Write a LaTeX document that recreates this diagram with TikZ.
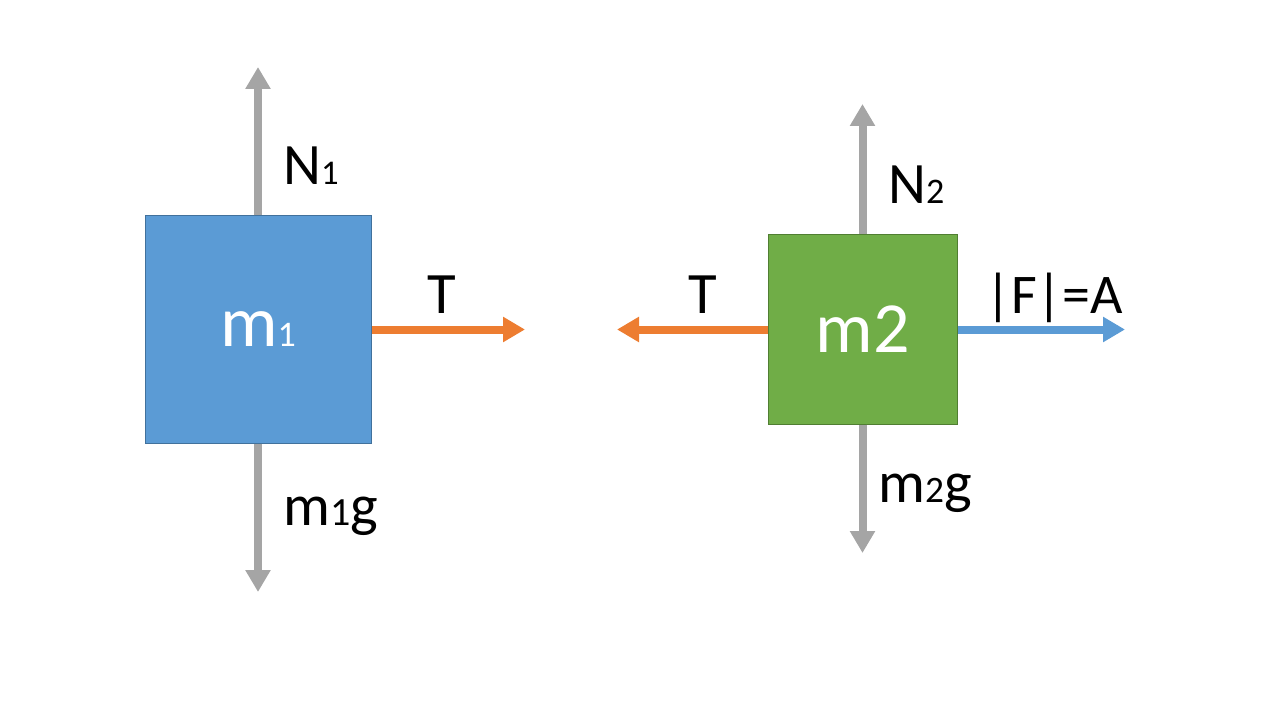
\documentclass[tikz,border=0pt]{standalone}
\usepackage{fontspec}
\setmainfont{Carlito}
\usetikzlibrary{arrows.meta}

\definecolor{blockblue}{HTML}{5B9BD5}
\definecolor{edgeblue}{HTML}{41719C}
\definecolor{blockgreen}{HTML}{70AD47}
\definecolor{edgegreen}{HTML}{507E32}
\definecolor{tensionorange}{HTML}{ED7D31}
\definecolor{forcegray}{HTML}{A5A5A5}

\tikzset{
  force/.style={line width=6pt,-{Triangle[length=16.5pt,width=18pt]}},
  label/.style={inner sep=0pt,font=\fontsize{44}{50}\selectfont},
  masslabel/.style={text=white,font=\fontsize{54}{60}\selectfont}
}

\begin{document}
\begin{tikzpicture}[x=0.75pt,y=0.75pt,yscale=-1,xscale=1]
    \path[use as bounding box] (0,0) rectangle (1280,720);

    %Shape: Rectangle [mass 1]
    \node[masslabel,draw=edgeblue,line width=0.75pt,fill=blockblue,minimum width=169.5pt,minimum height=170.25pt] (m1) at (258,329.5) {m\fontsize{27}{30}\selectfont 1};
    %Shape: Rectangle [mass 2]
    \node[masslabel,draw=edgegreen,line width=0.75pt,fill=blockgreen,minimum width=141.75pt,minimum height=141.75pt] (m2) at (862.5,329.5) {m2};

    %Arrow ends
    \coordinate (n1tip) at (258,67);
    \coordinate (w1tip) at (258,592);
    \coordinate (t1tip) at (525,329.5);
    \coordinate (n2tip) at (862.5,104);
    \coordinate (w2tip) at (862.5,553);
    \coordinate (t2tip) at (617,329.5);
    \coordinate (ftip) at (1125,329.5);

    %Straight Lines [forces on mass 1]
    \draw[force,forcegray] (m1.north) -- (n1tip);
    \draw[force,forcegray] (m1.south) -- (w1tip);
    \draw[force,tensionorange] (m1.east) -- (t1tip);
    %Straight Lines [forces on mass 2]
    \draw[force,forcegray] (m2.north) -- (n2tip);
    \draw[force,forcegray] (m2.south) -- (w2tip);
    \draw[force,tensionorange] (m2.west) -- (t2tip);
    \draw[force,blockblue] (m2.east) -- (ftip);

    % Text Node
    \node[label,anchor=base west] (n1) at (283,185) {N\fontsize{26}{30}\selectfont 1};
    % Text Node
    \node[label,anchor=base] (t1) at (442,313) {T};
    % Text Node
    \node[label,anchor=base west] (w1) at (283,525) {m\fontsize{30}{34}\selectfont 1\fontsize{44}{50}\selectfont g};
    % Text Node
    \node[label,anchor=base west] (n2) at (888,204) {N\fontsize{27}{30}\selectfont 2};
    % Text Node
    \node[label,anchor=base] (t2) at (703,313) {T};
    % Text Node
    \node[label,anchor=base west] (f) at (985,313) {\fontsize{42}{48}\selectfont|F|=A};
    % Text Node
    \node[label,anchor=base west] (w2) at (878,502) {m\fontsize{28}{32}\selectfont 2\fontsize{44}{50}\selectfont g};
\end{tikzpicture}
\end{document}
